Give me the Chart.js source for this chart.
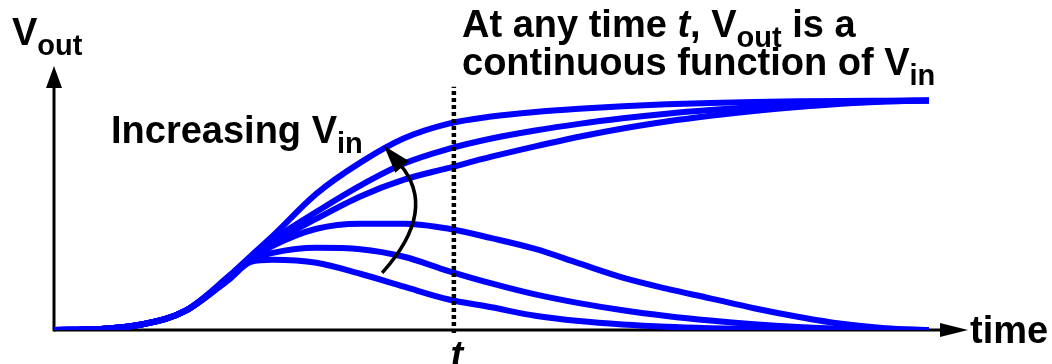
<!DOCTYPE html>
<html>
<head>
<meta charset="utf-8">
<script src="https://cdn.jsdelivr.net/npm/chart.js@4/dist/chart.umd.min.js"></script>
<style>
html, body { margin: 0; padding: 0; background: #fff; }
#wrap { width: 1052px; height: 364px; }
</style>
</head>
<body>
<div id="wrap"><canvas id="mychart"></canvas></div>
<script>
// time samples (arbitrary units, 0..10)
const times = [0, 0.5, 1, 1.5, 2, 2.25, 2.5, 3, 3.5, 4, 4.5, 5, 5.5, 6, 6.5, 7, 7.5, 8, 8.5, 9, 9.5, 10];

// Vout curves, highest Vin first (normalised, 1 = upper rail)
const vout6 = [0, 0.004, 0.024, 0.083, 0.236, 0.323, 0.410, 0.594, 0.729, 0.835, 0.898, 0.930, 0.950, 0.964, 0.975, 0.983, 0.989, 0.993, 0.996, 0.998, 0.999, 1];
const vout5 = [0, 0.004, 0.024, 0.083, 0.232, 0.319, 0.393, 0.515, 0.629, 0.725, 0.788, 0.834, 0.869, 0.898, 0.922, 0.942, 0.958, 0.971, 0.982, 0.990, 0.996, 1];
const vout4 = [0, 0.004, 0.024, 0.083, 0.230, 0.314, 0.380, 0.485, 0.582, 0.655, 0.705, 0.755, 0.800, 0.842, 0.878, 0.908, 0.933, 0.954, 0.971, 0.985, 0.995, 1];
const vout3 = [0, 0.004, 0.024, 0.083, 0.228, 0.310, 0.367, 0.441, 0.463, 0.463, 0.442, 0.400, 0.353, 0.290, 0.228, 0.180, 0.138, 0.095, 0.058, 0.027, 0.008, 0];
const vout2 = [0, 0.004, 0.024, 0.083, 0.225, 0.306, 0.336, 0.358, 0.352, 0.319, 0.258, 0.203, 0.155, 0.117, 0.086, 0.061, 0.041, 0.025, 0.013, 0.005, 0.001, 0];
const vout1 = [0, 0.004, 0.024, 0.083, 0.220, 0.297, 0.306, 0.293, 0.245, 0.189, 0.134, 0.099, 0.062, 0.039, 0.024, 0.014, 0.008, 0.004, 0.002, 0.001, 0, 0];

const allCurves = [vout1, vout2, vout3, vout4, vout5, vout6];

// the marked time t and the "increasing Vin" arrow (data units)
const tMark = 4.57;
const tLineTop = 1.06;
const arrowFrom = [3.75, 0.249];
const arrowCtrl = [4.40, 0.524];
const arrowTo = [3.77, 0.803];

const FONT = '"Liberation Sans", Arial, sans-serif';
const B = 'bold 38px ' + FONT;
const BI = 'italic bold 38px ' + FONT;
const S = 'bold 29px ' + FONT;

function runs(ctx, x, y, parts) {
    parts.forEach(p => {
        ctx.font = p.f;
        ctx.fillText(p.t, x, y + (p.dy || 0));
        x += ctx.measureText(p.t).width;
    });
}

const sketch = {
    id: 'sketch',
    beforeDatasetsDraw(chart) {
        const {ctx, chartArea: a, scales: {x, y}} = chart;
        const x0 = x.getPixelForValue(0);
        const y0 = y.getPixelForValue(0);
        ctx.save();
        ctx.strokeStyle = '#000';
        ctx.fillStyle = '#000';
        ctx.lineWidth = 3;
        // y axis
        ctx.beginPath();
        ctx.moveTo(x0, y0 + 1.5);
        ctx.lineTo(x0, a.top + 20);
        ctx.stroke();
        ctx.beginPath();
        ctx.moveTo(x0, a.top);
        ctx.lineTo(x0 - 8, a.top + 22);
        ctx.lineTo(x0 + 8, a.top + 22);
        ctx.closePath();
        ctx.fill();
        // x axis
        const xEnd = a.right + 39;
        ctx.beginPath();
        ctx.moveTo(x0, y0);
        ctx.lineTo(xEnd - 20, y0);
        ctx.stroke();
        ctx.beginPath();
        ctx.moveTo(xEnd, y0);
        ctx.lineTo(xEnd - 28, y0 - 7);
        ctx.lineTo(xEnd - 28, y0 + 7);
        ctx.closePath();
        ctx.fill();
        ctx.restore();
    },
    afterDatasetsDraw(chart) {
        const {ctx, chartArea: a, scales: {x, y}} = chart;
        ctx.save();
        ctx.fillStyle = '#000';
        ctx.strokeStyle = '#000';

        // dotted line at t
        const tx = x.getPixelForValue(tMark);
        ctx.lineWidth = 4.5;
        ctx.setLineDash([4, 3]);
        ctx.beginPath();
        ctx.moveTo(tx, y.getPixelForValue(0) + 3);
        ctx.lineTo(tx, y.getPixelForValue(tLineTop));
        ctx.stroke();
        ctx.setLineDash([]);

        // curved arrow
        const p0 = [x.getPixelForValue(arrowFrom[0]), y.getPixelForValue(arrowFrom[1])];
        const pc = [x.getPixelForValue(arrowCtrl[0]), y.getPixelForValue(arrowCtrl[1])];
        const p2 = [x.getPixelForValue(arrowTo[0]), y.getPixelForValue(arrowTo[1])];
        const dx = p2[0] - pc[0], dy = p2[1] - pc[1];
        const len = Math.hypot(dx, dy);
        const ux = dx / len, uy = dy / len;
        const hl = 28, hw = 9;
        const bx = p2[0] - ux * hl, by = p2[1] - uy * hl;
        ctx.lineWidth = 3.5;
        ctx.beginPath();
        ctx.moveTo(p0[0], p0[1]);
        ctx.quadraticCurveTo(pc[0], pc[1], bx + ux * 4, by + uy * 4);
        ctx.stroke();
        ctx.beginPath();
        ctx.moveTo(p2[0], p2[1]);
        ctx.lineTo(bx - uy * hw, by + ux * hw);
        ctx.lineTo(bx + uy * hw, by - ux * hw);
        ctx.closePath();
        ctx.fill();

        // texts
        ctx.textBaseline = 'alphabetic';
        runs(ctx, 12, 45, [{t: 'V', f: B}, {t: 'out', f: S, dy: 10}]);
        runs(ctx, 111, 143, [{t: 'Increasing V', f: B}, {t: 'in', f: S, dy: 10}]);
        runs(ctx, 462, 37, [{t: 'At any time ', f: B}, {t: 't', f: BI}, {t: ', V', f: B},
            {t: 'out', f: S, dy: 10}, {t: ' is a', f: B}]);
        runs(ctx, 462, 75, [{t: 'continuous function of V', f: B}, {t: 'in', f: S, dy: 10}]);
        runs(ctx, a.right + 41, 343, [{t: 'time', f: B}]);
        ctx.font = BI;
        ctx.textAlign = 'center';
        ctx.fillText('t', tx + 3, 368);
        ctx.restore();
    }
};

new Chart(document.getElementById('mychart'), {
    type: 'line',
    data: {
        datasets: allCurves.map((c, i) => ({
            label: 'Vin ' + (i + 1),
            data: times.map((t, k) => ({x: t, y: c[k]})),
            borderColor: '#0000ff',
            borderWidth: 6,
            pointRadius: 0,
            fill: false,
            cubicInterpolationMode: 'monotone',
        })),
    },
    options: {
        responsive: true,
        maintainAspectRatio: false,
        animation: false,
        layout: { padding: { left: 54, right: 123, top: 66, bottom: 34 } },
        scales: {
            x: { type: 'linear', min: 0, max: 10, display: false },
            y: { min: 0, max: 1.15, display: false },
        },
        plugins: {
            legend: { display: false },
            tooltip: { enabled: false },
        },
    },
    plugins: [sketch],
});
</script>
</body>
</html>
